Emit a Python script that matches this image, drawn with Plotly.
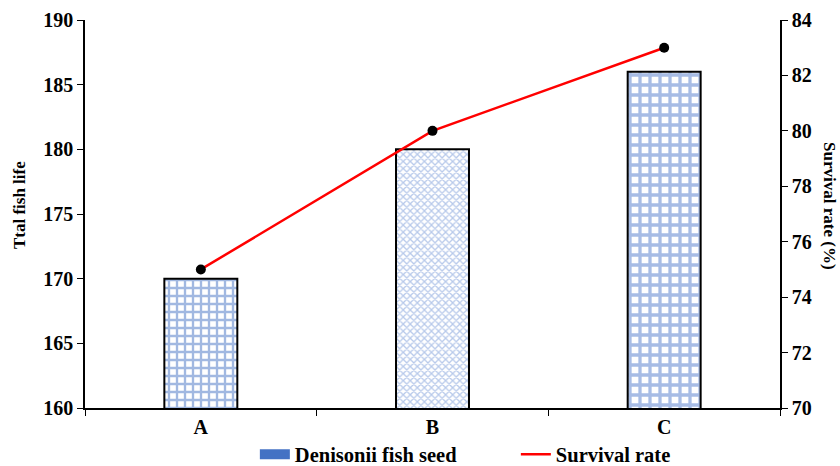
import plotly.graph_objects as go

categories = ["A", "B", "C"]
fish_life = [170, 180, 186]
survival = [75, 80, 83]

FONT = "Liberation Serif"
BLUE = "#4472C4"

fig = go.Figure()

fig.add_trace(go.Bar(
    x=categories, y=fish_life, width=0.315,
    marker=dict(
        color="white",
        line=dict(color="black", width=2),
        pattern=dict(shape=["+", "x", "+"], fgcolor=[BLUE, "#6F93D6", "#4F7ACB"],
                     bgcolor="white", size=[8, 5, 10], solidity=[0.5, 0.45, 0.55],
                     fillmode="overlay"),
    ),
    showlegend=False, name="Denisonii fish seed",
))
# legend entries (legend-only, no data)
fig.add_trace(go.Scatter(
    x=[None], y=[None], name="Denisonii fish seed",
    mode="lines", line=dict(color=BLUE, width=12),
))
fig.add_trace(go.Scatter(
    x=categories, y=survival, yaxis="y2", name="Survival rate",
    mode="lines+markers", showlegend=False,
    line=dict(color="#FF0000", width=2.5),
    marker=dict(color="black", size=10),
))
fig.add_trace(go.Scatter(
    x=[None], y=[None], yaxis="y2", name="Survival rate",
    mode="lines", line=dict(color="#FF0000", width=2.5),
))

tickfont = dict(family=FONT, size=20, color="black", weight="bold")

fig.update_layout(
    width=840, height=466,
    margin=dict(l=85, r=60, t=20, b=58, autoexpand=False),
    plot_bgcolor="white", paper_bgcolor="white",
    font=dict(family=FONT, size=20, color="black"),
    xaxis=dict(
        showline=True, linecolor="black", linewidth=1.5,
        ticks="outside", tickson="boundaries", ticklen=6, tickcolor="black",
        tickfont=tickfont, showgrid=False, automargin=False,
    ),
    yaxis=dict(
        range=[160, 190], dtick=5, showline=True, linecolor="black", linewidth=1.5,
        ticks="outside", ticklen=6, tickcolor="black", showgrid=False, zeroline=False,
        tickfont=tickfont, automargin=False,
    ),
    yaxis2=dict(
        range=[70, 84], dtick=2, overlaying="y", side="right",
        showline=True, linecolor="black", linewidth=1.5,
        ticks="outside", ticklen=6, tickcolor="black", showgrid=False, zeroline=False,
        tickfont=tickfont, automargin=False,
    ),
    legend=dict(
        orientation="h", x=0.2444, xanchor="left", y=-0.068, yanchor="top",
        font=dict(family=FONT, size=20.5, color="black", weight="bold"),
        itemwidth=30, traceorder="normal", entrywidthmode="pixels", entrywidth=216,
        bgcolor="rgba(0,0,0,0)",
    ),
    annotations=[
        dict(text="<b>Survival rate (%)</b>", textangle=90, xref="paper", yref="paper",
             x=1.0, xshift=50, y=0.523, showarrow=False, xanchor="center", yanchor="middle",
             font=dict(family=FONT, size=17, color="black")),
        dict(text="<b>Ttal fish life</b>", textangle=-90, xref="paper", yref="paper",
             x=0.0, xshift=-66, y=0.523, showarrow=False, xanchor="center", yanchor="middle",
             font=dict(family=FONT, size=17, color="black")),
    ],
)

fig.write_html(
    "out.html",
    config={"displayModeBar": False},
    post_script="document.body.style.margin='0';document.body.style.overflow='hidden';",
)
